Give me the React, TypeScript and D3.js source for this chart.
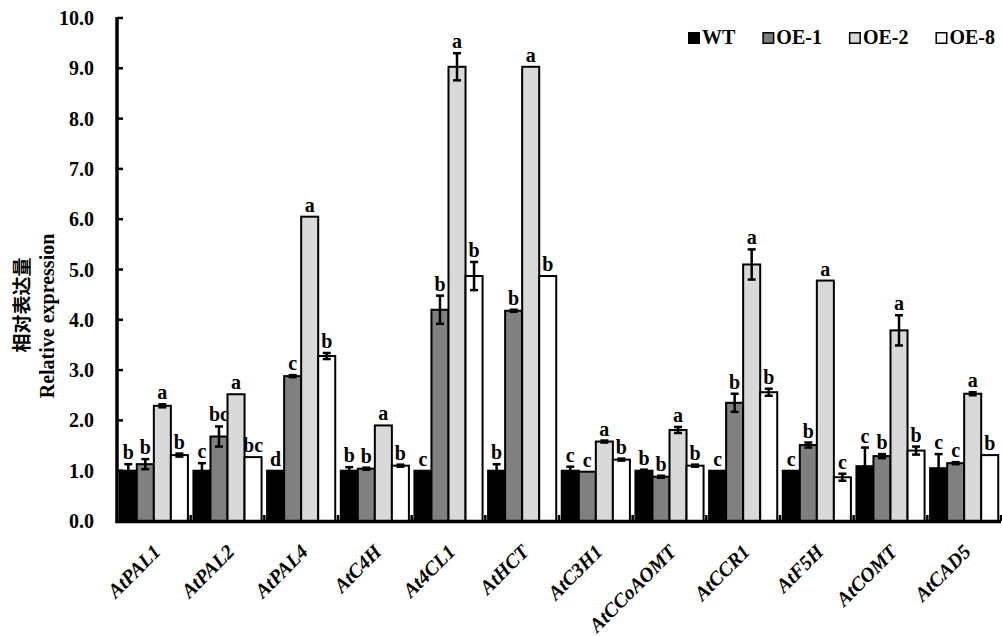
import React, { useRef, useEffect } from "react";
import * as d3 from "d3";

const WIDTH = 1002;
const HEIGHT = 636;

const categories = [
  "AtPAL1",
  "AtPAL2",
  "AtPAL4",
  "AtC4H",
  "At4CL1",
  "AtHCT",
  "AtC3H1",
  "AtCCoAOMT",
  "AtCCR1",
  "AtF5H",
  "AtCOMT",
  "AtCAD5",
];

const seriesNames = ["WT", "OE-1", "OE-2", "OE-8"];
const seriesColors = ["#000000", "#808080", "#d9d9d9", "#ffffff"];

const wt = [1.0, 1.0, 1.0, 1.0, 1.0, 1.0, 1.0, 1.0, 1.0, 1.0, 1.09, 1.05];
const wtErr = [0.13, 0.15, 0, 0.07, 0, 0.13, 0.08, 0.02, 0, 0, 0.37, 0.28];
const oe1 = [1.13, 1.68, 2.88, 1.04, 4.2, 4.18, 0.98, 0.88, 2.35, 1.51, 1.29, 1.15];
const oe1Err = [0.1, 0.2, 0.02, 0.02, 0.28, 0.02, 0, 0.02, 0.18, 0.05, 0.04, 0.02];
const oe2 = [2.29, 2.52, 6.05, 1.9, 9.03, 9.03, 1.58, 1.81, 5.1, 4.78, 3.79, 2.53];
const oe2Err = [0.03, 0, 0, 0, 0.27, 0, 0.02, 0.06, 0.3, 0, 0.3, 0.03];
const oe8 = [1.31, 1.27, 3.28, 1.1, 4.87, 4.87, 1.22, 1.1, 2.56, 0.87, 1.4, 1.31];
const oe8Err = [0.03, 0, 0.06, 0.02, 0.28, 0, 0.02, 0.02, 0.07, 0.07, 0.08, 0];

const wtLetters = ["b", "c", "d", "b", "c", "b", "c", "b", "c", "c", "c", "c"];
const oe1Letters = ["b", "bc", "c", "b", "b", "b", "c", "b", "b", "b", "b", "c"];
const oe2Letters = ["a", "a", "a", "a", "a", "a", "a", "a", "a", "a", "a", "a"];
const oe8Letters = ["b", "bc", "b", "b", "b", "b", "b", "b", "b", "c", "b", "b"];

const yTicks = [0, 1, 2, 3, 4, 5, 6, 7, 8, 9, 10];

const FONT = "'Liberation Serif', 'Times New Roman', serif";
const CJK = "'Noto Sans CJK SC', sans-serif";

export default function App() {
  const svgRef = useRef<SVGSVGElement>(null);

  useEffect(() => {
    const values = [wt, oe1, oe2, oe8];
    const errors = [wtErr, oe1Err, oe2Err, oe8Err];
    const letters = [wtLetters, oe1Letters, oe2Letters, oe8Letters];

    const axisX = 117;
    const axisRight = 1001;

    const y = d3.scaleLinear().domain([0, 10]).range([521, 18]);
    const x0 = d3
      .scaleBand()
      .domain(categories)
      .range([axisX, axisRight])
      .paddingInner(0.075)
      .paddingOuter(0.0375);
    const x1 = d3
      .scaleBand()
      .domain(seriesNames)
      .range([0, x0.bandwidth()]);

    const svg = d3.select(svgRef.current);
    svg.selectAll("*").remove();

    const bars = categories.flatMap((cat, ci) =>
      seriesNames.map((s, si) => ({
        cat,
        s,
        si,
        v: values[si][ci],
        e: errors[si][ci],
        l: letters[si][ci],
      })),
    );

    // Bars
    svg
      .append("g")
      .selectAll("rect")
      .data(bars)
      .join("rect")
      .attr("x", (d) => (x0(d.cat) ?? 0) + (x1(d.s) ?? 0))
      .attr("y", (d) => y(d.v))
      .attr("width", x1.bandwidth())
      .attr("height", (d) => y(0) - y(d.v))
      .attr("fill", (d) => seriesColors[d.si])
      .attr("stroke", "#000")
      .attr("stroke-width", 2);

    // Error bars
    const errG = svg
      .append("g")
      .attr("stroke", "#000")
      .attr("stroke-width", 2.5);
    bars
      .filter((d) => d.e > 0)
      .forEach((d) => {
        const cx = (x0(d.cat) ?? 0) + (x1(d.s) ?? 0) + x1.bandwidth() / 2;
        errG
          .append("line")
          .attr("x1", cx)
          .attr("x2", cx)
          .attr("y1", y(d.v - d.e))
          .attr("y2", y(d.v + d.e));
        [d.v - d.e, d.v + d.e].forEach((yy) =>
          errG
            .append("line")
            .attr("x1", cx - 4)
            .attr("x2", cx + 4)
            .attr("y1", y(yy))
            .attr("y2", y(yy)),
        );
      });

    // Significance letters
    svg
      .append("g")
      .selectAll("text")
      .data(bars)
      .join("text")
      .attr("x", (d) => (x0(d.cat) ?? 0) + (x1(d.s) ?? 0) + x1.bandwidth() / 2)
      .attr("y", (d) => y(d.v + d.e) - 5)
      .attr("text-anchor", "middle")
      .attr("font-family", FONT)
      .attr("font-weight", "bold")
      .attr("font-size", 20)
      .text((d) => d.l);

    // Axis lines
    svg
      .append("line")
      .attr("x1", axisX)
      .attr("x2", axisX)
      .attr("y1", y(10) - 1)
      .attr("y2", y(0) + 2)
      .attr("stroke", "#000")
      .attr("stroke-width", 3.5);
    svg
      .append("line")
      .attr("x1", axisX - 1.5)
      .attr("x2", axisRight)
      .attr("y1", y(0) + 0.5)
      .attr("y2", y(0) + 0.5)
      .attr("stroke", "#000")
      .attr("stroke-width", 3.5);

    // Y ticks (inward) and labels
    const yG = svg.append("g");
    yG.selectAll("line")
      .data(yTicks)
      .join("line")
      .attr("x1", axisX)
      .attr("x2", axisX + 6)
      .attr("y1", (d) => y(d))
      .attr("y2", (d) => y(d))
      .attr("stroke", "#000")
      .attr("stroke-width", 2.5);
    yG.selectAll("text")
      .data(yTicks)
      .join("text")
      .attr("x", 94)
      .attr("y", (d) => y(d))
      .attr("dy", "0.35em")
      .attr("text-anchor", "end")
      .attr("font-family", FONT)
      .attr("font-weight", "bold")
      .attr("font-size", 20)
      .text((d) => d3.format(".1f")(d));

    // X ticks between groups (inward)
    const step = x0.step();
    const bounds = categories.map(
      (c) => (x0(c) ?? 0) + x0.bandwidth() + (step - x0.bandwidth()) / 2,
    );
    svg
      .append("g")
      .selectAll("line")
      .data(bounds)
      .join("line")
      .attr("x1", (d) => d)
      .attr("x2", (d) => d)
      .attr("y1", y(0))
      .attr("y2", y(0) - 6)
      .attr("stroke", "#000")
      .attr("stroke-width", 2.5);

    // X labels: each in a translated group, rotated group inside
    const xl = svg
      .append("g")
      .selectAll("g")
      .data(categories)
      .join("g")
      .attr(
        "transform",
        (d) => `translate(${(x0(d) ?? 0) + x0.bandwidth() / 2 + 8},553)`,
      )
      .append("g")
      .attr("transform", "rotate(-45)");
    xl.append("text")
      .attr("text-anchor", "end")
      .attr("font-family", FONT)
      .attr("font-weight", "bold")
      .attr("font-style", "italic")
      .attr("font-size", 20)
      .text((d) => d);

    // Y axis title (CSS transform)
    svg
      .append("text")
      .attr("x", 0)
      .attr("y", 0)
      .style("transform", "translate(29px,305px) rotate(-90deg)")
      .attr("text-anchor", "middle")
      .attr("font-family", CJK)
      .attr("font-weight", "bold")
      .attr("font-size", 19)
      .text("相对表达量");
    svg
      .append("text")
      .attr("x", 0)
      .attr("y", 0)
      .style("transform", "translate(54px,316px) rotate(-90deg)")
      .attr("text-anchor", "middle")
      .attr("font-family", FONT)
      .attr("font-weight", "bold")
      .attr("font-size", 20)
      .text("Relative expression");

    // Legend
    const legend = svg.append("g").attr("transform", "translate(688,32)");
    let lx = 0;
    seriesNames.forEach((name, i) => {
      const item = legend.append("g").attr("transform", `translate(${lx},0)`);
      item
        .append("rect")
        .attr("x", 0.75)
        .attr("y", 0.75)
        .attr("width", 10.5)
        .attr("height", 10.5)
        .attr("fill", seriesColors[i])
        .attr("stroke", "#000")
        .attr("stroke-width", 1.5);
      const t = item
        .append("text")
        .attr("x", 14)
        .attr("y", 12)
        .attr("font-family", FONT)
        .attr("font-weight", "bold")
        .attr("font-size", 20)
        .text(name);
      const w = (t.node() as SVGTextElement).getComputedTextLength();
      lx += 14 + w + 27;
    });
  }, []);

  return (
    <svg
      ref={svgRef}
      width={WIDTH}
      height={HEIGHT}
      style={{ position: "absolute", left: 0, top: 0, background: "#fff" }}
    />
  );
}
